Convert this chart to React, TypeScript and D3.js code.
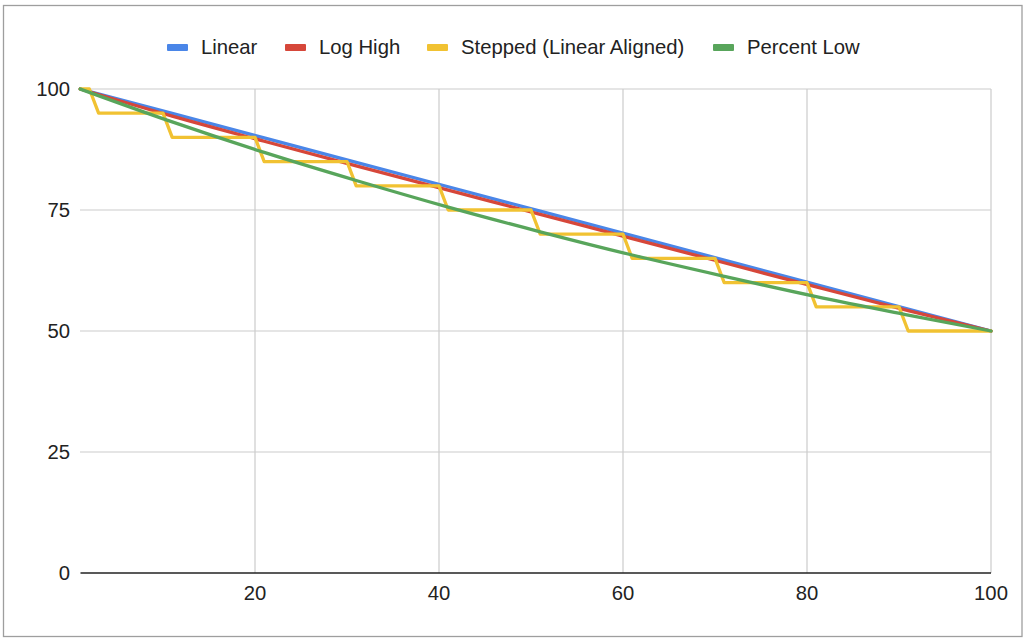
import React from "react";
import * as d3 from "d3";

// ---- data ----
const seriesNames = ["Linear", "Log High", "Stepped (Linear Aligned)", "Percent Low"];
const seriesColors = ["#4a86e8", "#d6473a", "#f1c232", "#58a55b"];

const sampleX = [1, 11, 21, 31, 41, 51, 61, 71, 81, 91, 100];
const linearValues = [100, 94.95, 89.9, 84.85, 79.8, 74.75, 69.7, 64.65, 59.6, 54.55, 50];
const logHighValues = [100, 94.4, 89.2, 84.1, 79.1, 74.1, 69.1, 64.1, 59.1, 54.2, 50];
const percentLowValues = [100, 93.2, 86.9, 81.1, 75.6, 70.5, 65.7, 61.3, 57.1, 53.3, 50];

const steppedValues = [
  100, 100, 95, 95, 95, 95, 95, 95, 95, 95,
  90, 90, 90, 90, 90, 90, 90, 90, 90, 90,
  85, 85, 85, 85, 85, 85, 85, 85, 85, 85,
  80, 80, 80, 80, 80, 80, 80, 80, 80, 80,
  75, 75, 75, 75, 75, 75, 75, 75, 75, 75,
  70, 70, 70, 70, 70, 70, 70, 70, 70, 70,
  65, 65, 65, 65, 65, 65, 65, 65, 65, 65,
  60, 60, 60, 60, 60, 60, 60, 60, 60, 60,
  55, 55, 55, 55, 55, 55, 55, 55, 55, 55,
  50, 50, 50, 50, 50, 50, 50, 50, 50, 50,
];

const xTicks = [20, 40, 60, 80, 100];
const yTicks = [0, 25, 50, 75, 100];

const W = 1024;
const H = 639;
const FONT = "'Liberation Sans', Arial, Helvetica, sans-serif";
const FS = 20.3;

export default function App() {
  const x = d3.scaleLinear().domain([1, 100]).range([80.2, 991]);
  const y = d3.scaleLinear().domain([0, 100]).range([573, 89]);

  type P = [number, number];
  const smooth = d3
    .line<P>()
    .x((d) => x(d[0]))
    .y((d) => y(d[1]))
    .curve(d3.curveMonotoneX);
  const straight = d3
    .line<P>()
    .x((d) => x(d[0]))
    .y((d) => y(d[1]));

  const linearPts: P[] = sampleX.map((v, i) => [v, linearValues[i]]);
  const logPts: P[] = sampleX.map((v, i) => [v, logHighValues[i]]);
  const pctPts: P[] = sampleX.map((v, i) => [v, percentLowValues[i]]);
  const stepPts: P[] = steppedValues.map((v, i) => [i + 1, v]);

  const paths = [
    straight(linearPts),
    smooth(logPts),
    straight(stepPts),
    smooth(pctPts),
  ];

  const legendSwatchX = [167, 285, 427, 713];

  return (
    <svg
      width={W}
      height={H}
      style={{ position: "fixed", left: 0, top: 0, background: "#fff" }}
      fontFamily={FONT}
    >
      <rect x={0} y={0} width={W} height={H} fill="#fff" />
      <rect x={3.5} y={5.5} width={1018.5} height={631} fill="none" stroke="#9e9e9e" strokeWidth={1.3} />

      {/* horizontal gridlines */}
      {yTicks
        .filter((t) => t !== 0)
        .map((t) => (
          <line key={"hy" + t} x1={80} x2={991} y1={y(t)} y2={y(t)} stroke="#cccccc" strokeWidth={1.2} />
        ))}
      {/* vertical gridlines */}
      {xTicks.map((t) => (
        <line key={"vx" + t} x1={x(t)} x2={x(t)} y1={89} y2={573} stroke="#cccccc" strokeWidth={1.2} />
      ))}

      {/* series */}
      {paths.map((d, i) => (
        <path
          key={i}
          d={d || ""}
          fill="none"
          stroke={seriesColors[i]}
          strokeWidth={3.3}
          strokeLinejoin="round"
          strokeLinecap="round"
        />
      ))}

      {/* x axis */}
      <line x1={80.5} x2={991} y1={573} y2={573} stroke="#222" strokeWidth={1.5} />

      {/* y labels */}
      {yTicks.map((t) => (
        <text key={"yl" + t} x={70} y={y(t) + 7} textAnchor="end" fontSize={FS} fill="#222">
          {t}
        </text>
      ))}
      {/* x labels */}
      {xTicks.map((t) => (
        <text key={"xl" + t} x={x(t)} y={600} textAnchor="middle" fontSize={FS} fill="#222">
          {t}
        </text>
      ))}

      {/* legend */}
      {seriesNames.map((n, i) => (
        <g key={"lg" + i}>
          <rect x={legendSwatchX[i]} y={44} width={21} height={7} rx={1} fill={seriesColors[i]} />
          <text x={legendSwatchX[i] + 34} y={54} fontSize={FS} fill="#222">
            {n}
          </text>
        </g>
      ))}
    </svg>
  );
}
